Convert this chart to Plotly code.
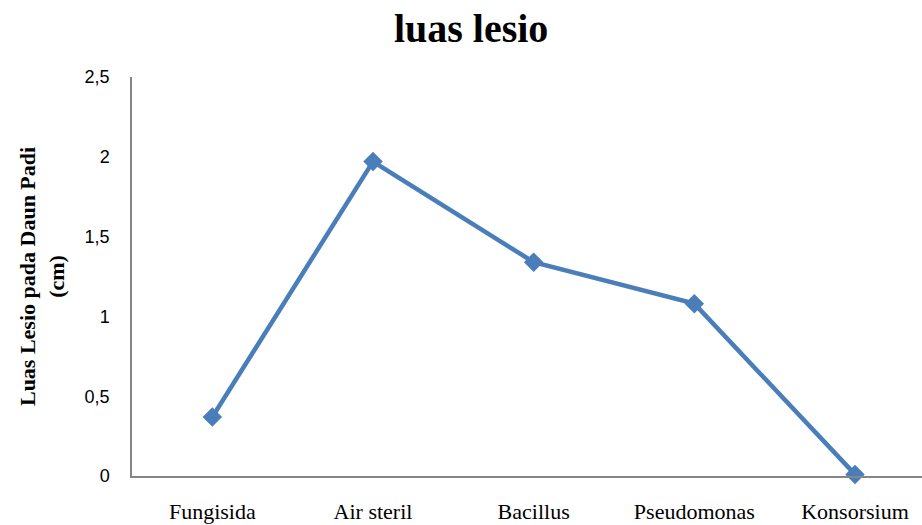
import plotly.graph_objects as go

categories = ["Fungisida", "Air steril", "Bacillus", "Pseudomonas", "Konsorsium"]
values = [0.37, 1.97, 1.34, 1.08, 0.01]
y_ticks = [0, 0.5, 1, 1.5, 2, 2.5]
y_tick_labels = ["0", "0,5", "1", "1,5", "2", "2,5"]

fig = go.Figure(go.Scatter(
    x=categories, y=values, mode="lines+markers",
    line=dict(color="#4a7ebb", width=4.5),
    marker=dict(symbol="diamond", size=15, color="#4a7ebb"),
    cliponaxis=False,
))

fig.update_layout(
    width=922, height=525,
    margin=dict(l=132, r=0, t=77, b=49, autoexpand=False),
    paper_bgcolor="white", plot_bgcolor="white",
    showlegend=False,
    title=dict(text="<b>luas lesio</b>", x=0.511, xanchor="center", y=0.947, yanchor="middle",
               font=dict(family="Liberation Serif", size=40, color="black")),
    xaxis=dict(range=[-0.5, 4.417], showgrid=False, zeroline=False, automargin=False,
               showline=True, linecolor="#868686", linewidth=1.5,
               ticks="", ticklabelstandoff=15,
               tickfont=dict(family="Liberation Serif", size=22, color="black")),
    yaxis=dict(range=[0, 2.5], tickvals=y_ticks, ticktext=y_tick_labels,
               showgrid=False, zeroline=False, automargin=False,
               showline=True, linecolor="#868686", linewidth=1.5,
               ticks="", ticklabelstandoff=17,
               tickfont=dict(family="Liberation Sans", size=18, color="black")),
    annotations=[dict(
        text="<b>Luas Lesio pada Daun Padi<br>(cm)</b>", textangle=-90,
        xref="paper", yref="paper", x=-0.1145, y=0.5,
        xanchor="center", yanchor="middle", showarrow=False,
        font=dict(family="Liberation Serif", size=22, color="black"))],
)

fig.write_html("out.html", config={"displayModeBar": False},
               post_script="document.body.style.margin='0';document.body.style.overflow='hidden';")
